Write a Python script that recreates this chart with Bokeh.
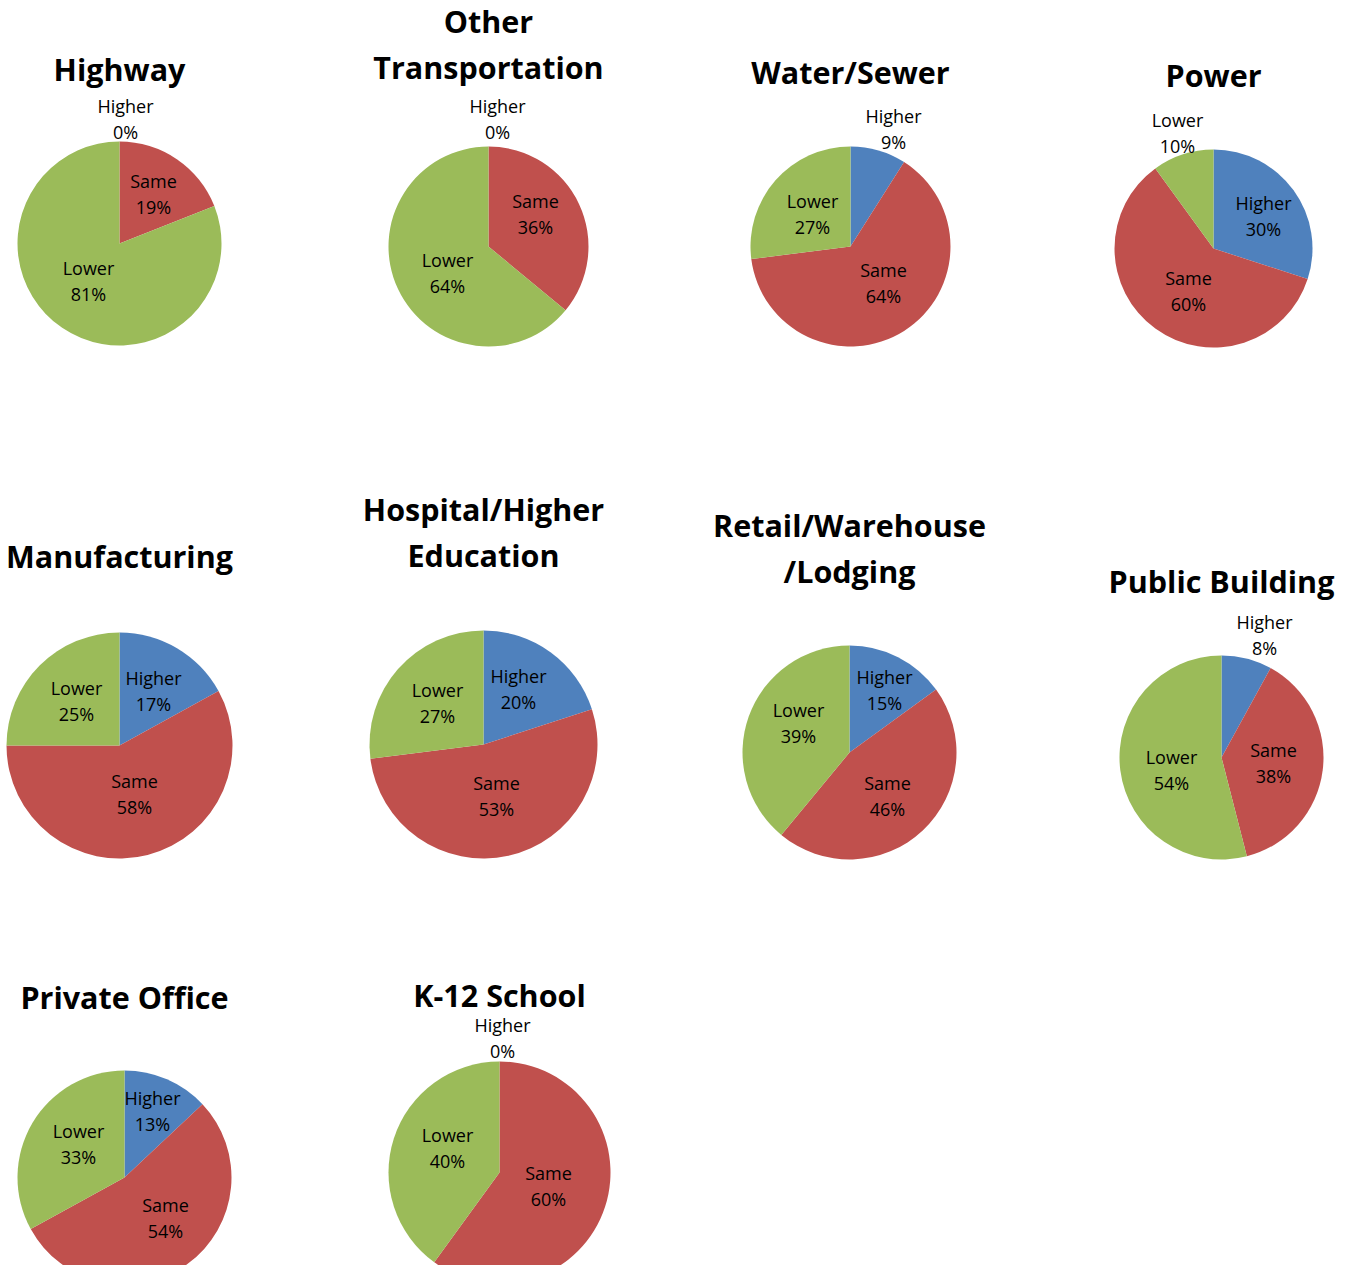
import math
from bokeh.plotting import figure
from bokeh.models import Range1d, ColumnDataSource
from bokeh.core.properties import value
from bokeh.embed import file_html
from bokeh.resources import INLINE

# ---------------- data ----------------
sectors = ["Highway", "Other Transportation", "Water/Sewer", "Power",
           "Manufacturing", "Hospital/Higher Education", "Retail/Warehouse/Lodging",
           "Public Building", "Private Office", "K-12 School"]
categories = ["Higher", "Same", "Lower"]
higher = [0, 0, 9, 30, 17, 20, 15, 8, 13, 0]
same = [19, 36, 64, 60, 58, 53, 46, 38, 54, 60]
lower = [81, 64, 27, 10, 25, 27, 39, 54, 33, 40]

# ---------------- layout / styles ----------------
colors = {"Higher": "#4F81BD", "Same": "#C0504D", "Lower": "#9BBB59"}
title_lines = [["Highway"], ["Other", "Transportation"], ["Water/Sewer"], ["Power"],
               ["Manufacturing"], ["Hospital/Higher", "Education"],
               ["Retail/Warehouse", "/Lodging"], ["Public Building"],
               ["Private Office"], ["K-12 School"]]
# picture-pixel layout: pie centre, radius, title first-line centre
centers = [(119, 243), (488, 246), (850, 246), (1213, 248),
           (119, 745), (483, 744), (849, 752), (1221, 757),
           (124, 1177), (499, 1172)]
radii = [102, 100, 100, 99, 113, 114, 107, 102, 107, 111]
title_pos = [(119, 68), (488, 20), (850, 71), (1213, 74),
             (119, 555), (483, 508), (849, 524), (1221, 580),
             (124, 996), (499, 994)]
# label offsets from pie centre (pixels, down positive) for Higher, Same, Lower
label_off = [
    [(6, -125), (34, -49.5), (-31, 37.5)],
    [(9, -127.5), (47, -32.5), (-41, 26.5)],
    [(43, -117.5), (33, 36.5), (-38, -33)],
    [(50, -32.5), (-25, 42.5), (-36, -115.5)],
    [(34, -54.5), (15, 48.5), (-43, -44.5)],
    [(35, -55.5), (13, 51.5), (-46, -41.5)],
    [(35, -62.5), (38, 43.5), (-51, -29.5)],
    [(43, -122.5), (52, 5.5), (-50, 12.5)],
    [(28, -66.5), (41, 40), (-46, -33.5)],
    [(3, -135), (49, 13.5), (-52, -24.5)],
]

W, H = 1335, 1265
PAGE_H = 1281


def Y(py):
    return PAGE_H - py


p = figure(width=W, height=H, output_backend="svg", toolbar_location=None,
           x_range=Range1d(0, W), y_range=Range1d(PAGE_H - H, PAGE_H),
           min_border=0)
p.axis.visible = False
p.grid.visible = False
p.outline_line_color = None
p.background_fill_color = "white"

wx, wy, wr, ws, we, wc = [], [], [], [], [], []
tx, ty, tt = [], [], []
hx, hy, ht = [], [], []

for i, name in enumerate(sectors):
    vals = [higher[i], same[i], lower[i]]
    total = float(sum(vals))
    cx, cy = centers[i]
    cum = 0.0
    for j, cat in enumerate(categories):
        v = vals[j]
        if v > 0:
            start = math.pi / 2 - 2 * math.pi * (cum + v) / total
            end = math.pi / 2 - 2 * math.pi * cum / total
            wx.append(cx); wy.append(Y(cy)); wr.append(radii[i])
            ws.append(start); we.append(end); wc.append(colors[cat])
        cum += v
        dx, dy = label_off[i][j]
        tx.append(cx + dx); ty.append(Y(cy + dy - 13)); tt.append(cat)
        tx.append(cx + dx); ty.append(Y(cy + dy + 13)); tt.append(f"{v}%")
    tpx, tpy = title_pos[i]
    for k, line in enumerate(title_lines[i]):
        hx.append(tpx); hy.append(Y(tpy + 46.5 * k)); ht.append(line)

wsrc = ColumnDataSource(dict(x=wx, y=wy, r=wr, s=ws, e=we, c=wc))
p.wedge(x="x", y="y", radius="r", radius_units="screen", start_angle="s",
        end_angle="e", fill_color="c", line_color=None, source=wsrc)

p.text(x=tx, y=ty, text=tt, text_align="center", text_baseline="middle",
       text_font=value("Open Sans"), text_font_size="18px", text_color="black")

p.text(x=hx, y=hy, text=ht, text_align="center", text_baseline="middle",
       text_font=value("Open Sans"), text_font_size="30.5px", text_font_style="bold",
       text_color="black")

open("out.html", "w").write(file_html(p, INLINE))
